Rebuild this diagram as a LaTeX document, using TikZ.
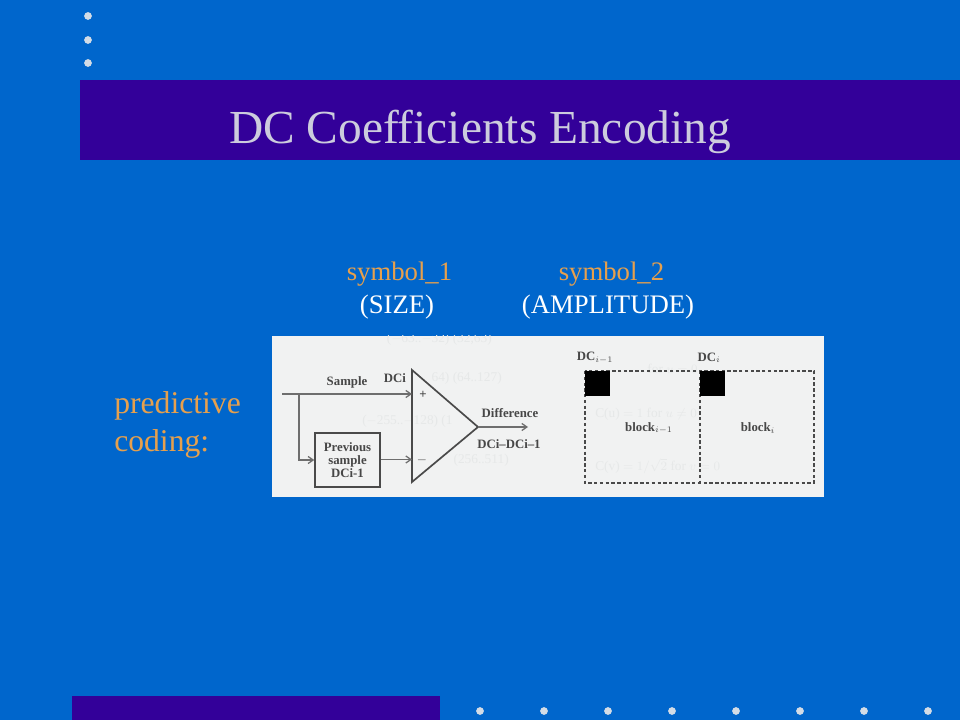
\documentclass[tikz,border=0pt]{standalone}
\usepackage{fontspec}
\setmainfont{Liberation Serif}
\usepackage{tikz}
\usetikzlibrary{positioning,arrows.meta}

\definecolor{slideblue}{HTML}{0066CC}
\definecolor{bandviolet}{HTML}{330099}
\definecolor{titlegray}{HTML}{CCCCDD}
\definecolor{labelorange}{HTML}{E6A04D}
\definecolor{dotgray}{HTML}{D3DCE6}
\definecolor{panelgray}{HTML}{F1F2F2}
\definecolor{ghostgray}{HTML}{E6E8E8}
\definecolor{inkgray}{HTML}{4A4A4A}

\begin{document}
\begin{tikzpicture}[
x=0.025cm,y=-0.025cm,
band/.style={
	fill=bandviolet,
	draw=none
},
dot/.style={
	fill=dotgray,
	circle,
	inner sep=0pt,
	minimum size=5.5pt
},
slidetitle/.style={
	text=titlegray,
	font=\fontsize{33.7}{38}\selectfont
},
symlabel/.style={
	text=labelorange,
	font=\fontsize{19}{22}\selectfont
},
symnote/.style={
	text=white,
	font=\fontsize{19}{22}\selectfont
},
predlabel/.style={
	text=labelorange,
	align=left,
	font=\fontsize{22.5}{27}\selectfont
},
scan/.style={
	text=black!72,
	inner sep=0pt,
	font=\fontsize{9.1}{9.5}\selectfont\bfseries
},
ghost/.style={
	text=ghostgray,
	inner sep=0pt,
	font=\fontsize{9.5}{11}\selectfont
},
wire/.style={
	draw=inkgray!80,
	line width=0.9pt,
	-{Straight Barb[length=3.6pt,width=5pt]}
},
blockline/.style={
	draw=inkgray,
	line width=0.9pt,
	dash pattern=on 2.4pt off 1.7pt
},
mark square/.style={
	fill=black,
	draw=none,
	minimum size=17.8pt,
	inner sep=0pt
}
]

% slide ground
\fill[slideblue] (0,0) rectangle (960,720);
\useasboundingbox (0,0) rectangle (960,720);
\fill[band] (80,80) rectangle (960,160);
\fill[band] (72,696) rectangle (440,720);

\foreach \y/\n in {16/1,40/2,63/3}
	\node[dot] (dotv\n) at (88,\y) {};
\foreach \x/\n in {480/1,544/2,608/3,672/4,736/5,800/6,864/7,928/8}
	\node[dot] (doth\n) at (\x,711) {};

\node[slidetitle] (title) at (480,132) {DC Coefficients Encoding};

\node[symlabel] (sym1) at (399.5,274) {symbol\_1};
\node[symlabel] (sym2) at (611.5,274) {symbol\_2};
\node[symnote] (size) at (397,307) {(SIZE)};
\node[symnote] (ampl) at (608,307) {(AMPLITUDE)};

\node[predlabel,anchor=west,inner sep=0pt] (pred) at (114,425) {predictive\\coding:};

% scanned panel
\fill[panelgray] (272,336) rectangle (824,497);
\begin{scope}
\clip (272,336) rectangle (824,497);
\node[ghost,anchor=east] (g1) at (492,339) {($-$63..$-$32) (32,63)};
\node[ghost,anchor=east] (g2) at (502,378) {64) (64..127)};
\node[ghost,anchor=west] (g3) at (362,421) {($-$255..$-$128) (1};
\node[ghost,anchor=east] (g4) at (509,460) {(256..511)};
\node[ghost,anchor=east] (g5) at (698,369) {for $u=0$};
\node[ghost,anchor=west] (g6) at (595,414) {C(u) $=1$ for $u\neq 0$};
\node[ghost,anchor=west] (g7) at (595,466) {C(v) $=1/\sqrt{2}$ for $v=0$};
\end{scope}

% amplifier
\coordinate (tria) at (412,370);
\coordinate (trib) at (412,482);
\coordinate (tip) at (478,427);
\draw[inkgray,line width=1.2pt,line join=miter] (tria) -- (tip) -- (trib) -- cycle;

\node[draw=inkgray,line width=1.1pt,inner sep=0pt,minimum width=46.2pt,minimum height=38.4pt,
	scan,align=center] (prev) at (347.5,460) {Previous\\sample\\DCi-1};

\coordinate (src) at (282,394);
\coordinate (plus) at (412,394);
\coordinate (minus) at (412,459.5);
\coordinate (out) at (528,427);
\coordinate (branch) at (299,394);

\draw[wire] (src) -- (plus);
\draw[wire] (branch) |- (prev.west);
\draw[wire] (prev.east |- minus) -- (minus);
\draw[wire] (tip) -- (out);

\node[scan] (sample) at (347,382) {Sample};
\node[scan] (dci) at (395,378) {DCi};
\node[scan] (pl) at (423,395) {+};
\node[scan] (mi) at (422,460) {$-$};
\node[scan] (diff) at (510,413) {Difference};
\node[scan] (dcd) at (509,444) {DCi--DCi--1};

% blocks
\draw[blockline] (585,371) rectangle (814,483);
\draw[blockline] (700,371) -- (700,483);
\node[mark square,anchor=north west] (sq1) at (585,371) {};
\node[mark square,anchor=north west] (sq2) at (700,371) {};

\node[scan] (dc1) at (595,358) {DC$_{i-1}$};
\node[scan] (dc2) at (709,358) {DC$_{i}$};
\node[scan] (blk1) at (649,428) {block$_{i-1}$};
\node[scan] (blk2) at (758,428) {block$_{i}$};

\end{tikzpicture}
\end{document}
